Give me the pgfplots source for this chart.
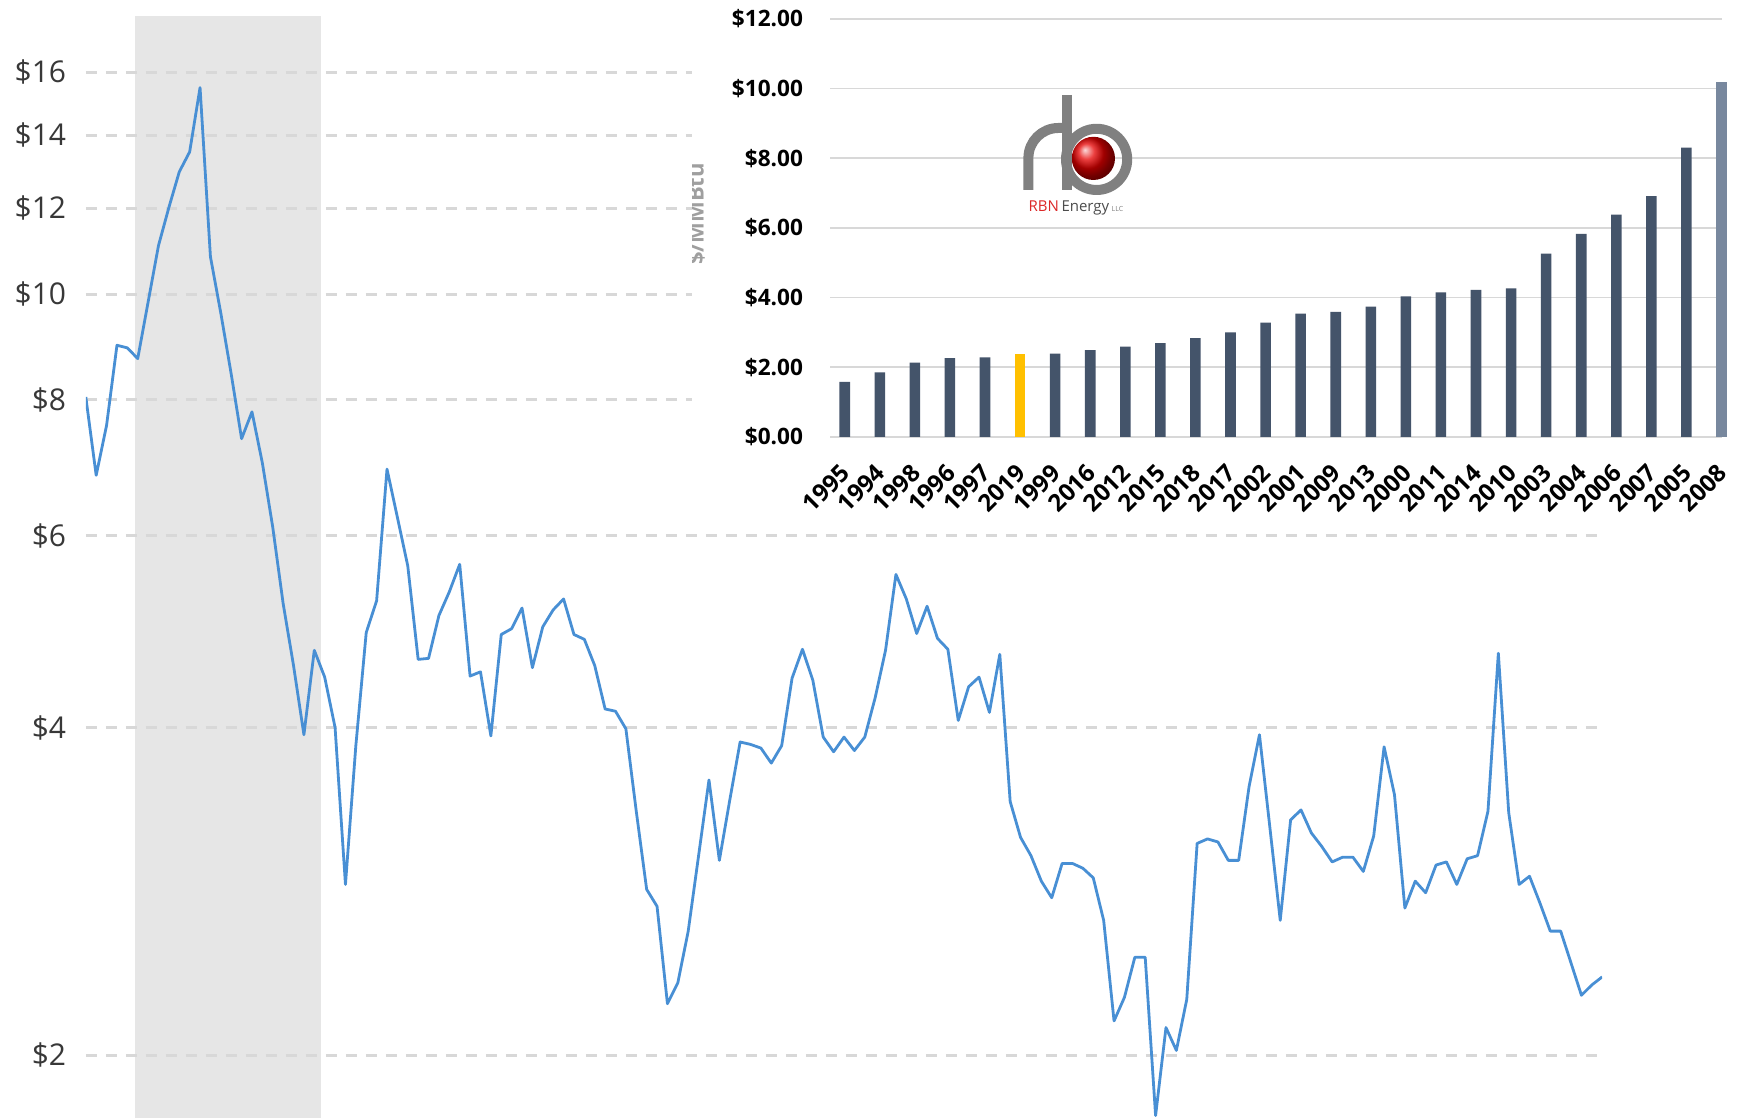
\documentclass[border=0pt]{standalone}
\usepackage{pgfplots}
\pgfplotsset{compat=1.18}
\usepackage{fontspec}
\setmainfont{Open Sans}
\definecolor{linebl}{RGB}{72,143,212}
\definecolor{shadeg}{RGB}{230,230,230}
\definecolor{gridg}{RGB}{216,216,216}
\definecolor{slate}{RGB}{68,84,106}
\definecolor{gold}{RGB}{255,192,0}
\definecolor{lastbar}{RGB}{120,136,158}
\definecolor{pipe}{RGB}{128,128,128}
\definecolor{rbnred}{RGB}{220,40,40}
\pgfplotstableread{
x y
0 8.05
1 6.82
2 7.58
3 8.98
4 8.93
5 8.73
6 9.84
7 11.09
8 12.02
9 12.96
10 13.52
11 15.49
12 10.83
13 9.61
14 8.45
15 7.37
16 7.80
17 7.00
18 6.11
19 5.20
20 4.56
21 3.94
22 4.71
23 4.45
24 4.00
25 2.87
26 3.85
27 4.89
28 5.23
29 6.91
30 6.24
31 5.63
32 4.62
33 4.63
34 5.07
35 5.33
36 5.65
37 4.46
38 4.50
39 3.93
40 4.87
41 4.93
42 5.15
43 4.54
44 4.95
45 5.13
46 5.25
47 4.87
48 4.82
49 4.56
50 4.16
51 4.14
52 3.99
53 3.35
54 2.84
55 2.74
56 2.23
57 2.33
58 2.60
59 3.05
60 3.58
61 3.02
62 3.43
63 3.88
64 3.86
65 3.83
66 3.71
67 3.85
68 4.44
69 4.72
70 4.42
71 3.92
72 3.80
73 3.92
74 3.81
75 3.92
76 4.26
77 4.71
78 5.53
79 5.25
80 4.88
81 5.17
82 4.83
83 4.72
84 4.06
85 4.36
86 4.45
87 4.13
88 4.67
89 3.42
90 3.17
91 3.05
92 2.89
93 2.79
94 3.00
95 3.00
96 2.97
97 2.91
98 2.66
99 2.15
100 2.26
101 2.46
102 2.46
103 1.76
104 2.12
105 2.02
106 2.25
107 3.13
108 3.16
109 3.14
110 3.02
111 3.02
112 3.53
113 3.94
114 3.24
115 2.66
116 3.29
117 3.36
118 3.20
119 3.11
120 3.01
121 3.04
122 3.04
123 2.95
124 3.18
125 3.84
126 3.47
127 2.73
128 2.89
129 2.82
130 2.99
131 3.01
132 2.87
133 3.03
134 3.05
135 3.35
136 4.68
137 3.34
138 2.87
139 2.92
140 2.76
141 2.60
142 2.60
143 2.43
144 2.27
145 2.32
146 2.36
}\pricedata
\begin{document}
\begin{tikzpicture}
\begin{axis}[
  set layers,
  at={(42.9pt,0pt)}, anchor=south west,
  scale only axis, width=758.2pt, height=551.2pt,
  xmin=0, xmax=146,
  ymode=log, ymin=1.751, ymax=18.04,
  axis line style={draw=none},
  major tick style={draw=none}, minor tick style={draw=none},
  xtick=\empty,
  ytick={2,4,6,8,10,12,14,16},
  yticklabels={\$2,\$4,\$6,\$8,\$10,\$12,\$14,\$16},
  yticklabel style={font=\fontsize{15}{15}\selectfont, text=black!78, xshift=-6.3pt},
  ymajorgrids,
  grid style={gridg, line width=1.4pt, dash pattern=on 5.5pt off 4.5pt},
]
\addplot[on layer=axis background, fill=shadeg, draw=none] coordinates {(4.72,1.751) (22.64,1.751) (22.64,18.04) (4.72,18.04)};
\addplot[linebl, line width=1.4pt, line join=round] table[x=x,y=y] {\pricedata};
\end{axis}
\fill[white] (346pt,301pt) rectangle (873.5pt,559pt);
\begin{scope}
\clip (346pt,301pt) rectangle (873.5pt,559pt);
\node[rotate=90, font=\bfseries\fontsize{11}{11}\selectfont, text=gray!75] at (348pt,452pt) {\$/MMBtu};
\end{scope}
\begin{axis}[
  at={(415pt,340.6pt)}, anchor=south west,
  scale only axis, width=445.75pt, height=208.95pt,
  xmin=-0.42, xmax=25, ymin=0, ymax=12,
  clip=false,
  axis line style={draw=none}, major tick style={draw=none},
  ytick={0,2,4,6,8,10,12},
  yticklabels={\$0.00,\$2.00,\$4.00,\$6.00,\$8.00,\$10.00,\$12.00},
  yticklabel style={font=\bfseries\fontsize{11.3}{11.3}\selectfont, xshift=-10pt},
  xtick={0,1,...,25},
  xticklabels={1995,1994,1998,1996,1997,2019,1999,2016,2012,2015,2018,2017,2002,2001,2009,2013,2000,2011,2014,2010,2003,2004,2006,2007,2005,2008},
  xticklabel style={font=\bfseries\fontsize{12}{12}\selectfont, xshift=2.9pt, yshift=-13.5pt, rotate=45, anchor=east},
  ymajorgrids, grid style={gridg, line width=0.9pt},
]
\addplot[ybar, bar width=5.3pt, bar shift=0pt, fill=slate, draw=none] coordinates {
(0,1.58) (1,1.85) (2,2.13) (3,2.26) (4,2.28) (6,2.39) (7,2.49) (8,2.59) (9,2.69) (10,2.83) (11,3.00) (12,3.28) (13,3.54) (14,3.59) (15,3.74) (16,4.03) (17,4.15) (18,4.22) (19,4.26) (20,5.26) (21,5.83) (22,6.38) (23,6.91) (24,8.30)};
\addplot[ybar, bar width=5.3pt, bar shift=0pt, fill=gold, draw=none] coordinates {(5,2.39)};
\addplot[ybar, bar width=5.3pt, bar shift=0pt, fill=lastbar, draw=none] coordinates {(25,10.18)};
\end{axis}
\shade[ball color=red!90!black] (546.7pt,479.8pt) circle (10.8pt);
\draw[pipe, line width=5pt] (548.3pt,479.3pt) circle (15.3pt);
\draw[pipe, line width=5pt] (514.2pt,464pt) -- (514.2pt,480pt) arc[start angle=180, end angle=90, radius=15pt] -- (533.3pt,495pt);
\draw[pipe, line width=5pt] (533.3pt,511.5pt) -- (533.3pt,464pt);
\node[font=\fontsize{7.5}{7.5}\selectfont] at (538pt,455pt) {\textcolor{rbnred}{RBN}\,\textcolor{black!70}{Energy}\,{\fontsize{3.5}{4}\selectfont\textcolor{gray}{LLC}}};
\pgfresetboundingbox
\path[use as bounding box] (0,0) rectangle (873.5pt,559pt);
\end{tikzpicture}
\end{document}
